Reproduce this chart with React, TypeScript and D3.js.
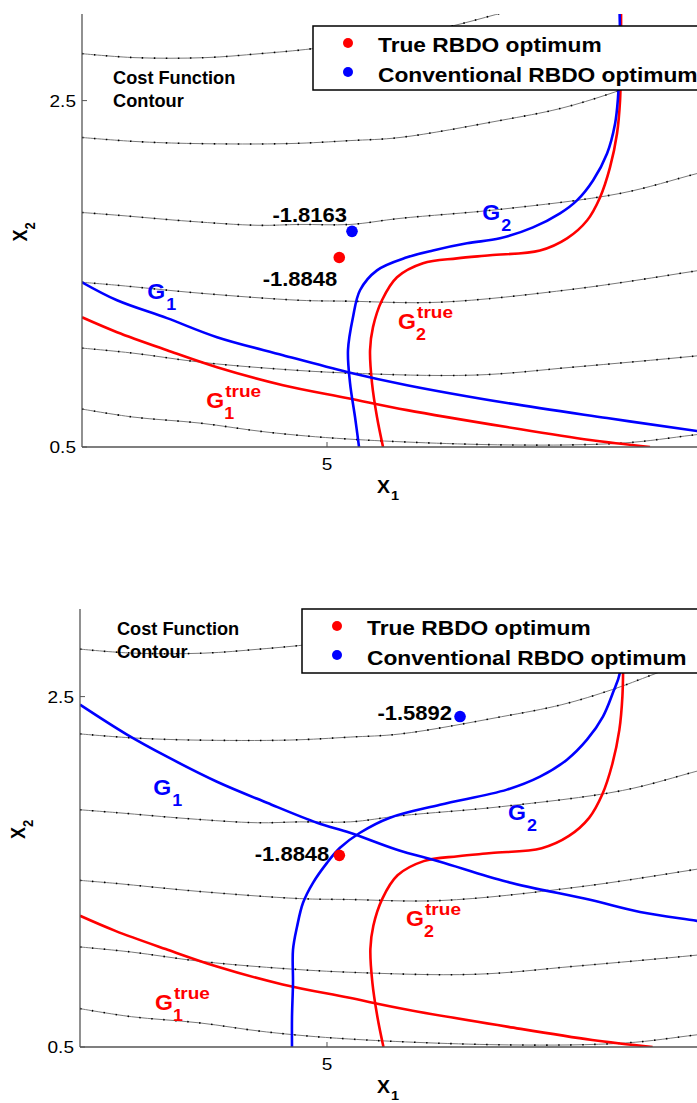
import * as d3 from 'd3';

type Pt = [number, number];

// ── axes ───────────────────────────────────────────────
const X_DOMAIN: [number, number] = [2, 10];
const Y_DOMAIN: [number, number] = [0.5, 3];
const X_TICKS = [5];
const Y_TICKS = [0.5, 2.5];

// ── cost function contours (same in both panels) ───────
const CONTOUR_1: Pt[] = [[2.0, 2.771], [2.649, 2.748], [3.506, 2.748], [4.18, 2.771], [4.829, 2.8], [5.894, 2.869], [6.543, 2.932], [7.06, 2.996], [7.4, 3.04]];
const CONTOUR_2: Pt[] = [[2.0, 2.287], [2.649, 2.264], [3.384, 2.252], [4.547, 2.252], [5.282, 2.269], [5.894, 2.287], [7.118, 2.385], [7.853, 2.454], [8.465, 2.54], [8.96, 2.626], [9.6, 2.74], [10.2, 2.86]];
const CONTOUR_3: Pt[] = [[2.0, 1.854], [2.465, 1.837], [3.323, 1.803], [4.155, 1.78], [4.669, 1.785], [5.282, 1.785], [5.894, 1.82], [7.118, 1.872], [8.588, 1.964], [9.531, 2.079], [10.2, 2.16]];
const CONTOUR_4: Pt[] = [[2.0, 1.451], [2.429, 1.434], [3.445, 1.388], [4.669, 1.347], [5.257, 1.342], [6.384, 1.336], [8.012, 1.411], [9.482, 1.514], [10.2, 1.57]];
const CONTOUR_5: Pt[] = [[2.0, 1.071], [2.624, 1.042], [3.445, 0.99], [4.265, 0.955], [5.257, 0.927], [6.8, 0.915], [8.012, 0.961], [9.482, 1.024], [10.2, 1.06]];
const CONTOUR_6: Pt[] = [[2.0, 0.719], [2.624, 0.673], [3.445, 0.638], [4.265, 0.586], [5.257, 0.546], [7.204, 0.512], [8.625, 0.523], [9.482, 0.569], [10.2, 0.61]];
const CONTOURS = [CONTOUR_1, CONTOUR_2, CONTOUR_3, CONTOUR_4, CONTOUR_5, CONTOUR_6];

// ── true constraints + optimum ─────────────────────────
const G1_TRUE: Pt[] = [[2.0, 1.249], [2.429, 1.163], [3.041, 1.059], [3.653, 0.961], [4.461, 0.857], [5.257, 0.782], [5.98, 0.713], [7.204, 0.615], [8.221, 0.54], [8.955, 0.5]];
const G2_TRUE: Pt[] = [[5.686, 0.5], [5.612, 0.673], [5.551, 0.869], [5.527, 1.059], [5.563, 1.192], [5.673, 1.347], [5.857, 1.48], [6.175, 1.561], [6.592, 1.589], [6.996, 1.607], [7.608, 1.635], [7.939, 1.705], [8.184, 1.808], [8.343, 1.941], [8.465, 2.114], [8.551, 2.31], [8.588, 2.5], [8.6, 2.788], [8.6, 3.05]];
const TRUE_OPT: Pt = [5.15, 1.594];
const TRUE_COST = '-1.8848';

// ── conventional constraints, top panel ────────────────
const G1_CONV_A: Pt[] = [[2.0, 1.451], [2.429, 1.347], [3.041, 1.244], [3.653, 1.134], [4.461, 1.03], [5.257, 0.932], [5.98, 0.857], [7.204, 0.754], [8.429, 0.667], [9.531, 0.592], [10.2, 0.55]];
const G2_CONV_A: Pt[] = [[5.392, 0.5], [5.343, 0.673], [5.282, 0.869], [5.257, 1.059], [5.318, 1.249], [5.404, 1.405], [5.612, 1.52], [5.98, 1.595], [6.298, 1.635], [6.714, 1.676], [7.118, 1.705], [7.522, 1.768], [7.853, 1.849], [8.061, 1.924], [8.257, 2.039], [8.429, 2.195], [8.527, 2.367], [8.563, 2.517], [8.588, 2.788], [8.58, 3.05]];
const CONV_OPT_A: Pt = [5.306, 1.745];
const CONV_COST_A = '-1.8163';

// ── conventional constraints, bottom panel ─────────────
const G1_CONV_B: Pt[] = [[2.0, 2.454], [2.571, 2.283], [3.057, 2.157], [3.664, 2.014], [4.271, 1.894], [4.879, 1.78], [5.279, 1.723], [5.85, 1.626], [6.373, 1.557], [7.186, 1.443], [8.195, 1.34], [8.802, 1.271], [9.494, 1.22], [10.2, 1.17]];
const G2_CONV_B: Pt[] = [[4.575, 0.5], [4.575, 0.671], [4.587, 0.866], [4.587, 1.054], [4.636, 1.186], [4.709, 1.323], [4.83, 1.437], [5.0, 1.551], [5.158, 1.637], [5.401, 1.723], [5.765, 1.809], [6.373, 1.883], [7.186, 1.969], [7.587, 2.043], [7.915, 2.14], [8.158, 2.254], [8.352, 2.386], [8.474, 2.523], [8.559, 2.637], [8.62, 3.05]];
const CONV_OPT_B: Pt = [6.616, 2.386];
const CONV_COST_B = '-1.5892';

const LEGEND = ['True RBDO optimum', 'Conventional RBDO optimum'];

const RED = '#ff0000';
const BLUE = '#0000ff';
const FONT = '"Liberation Sans", Arial, Helvetica, sans-serif';
const W = 697;
const H = 1103;

// layout of the two panels (pixels) + label anchors (data units)
const PANELS = [
  {
    id: 'a', left: 82, top: 14, bottom: 447, pxX: 81.67,
    g1: G1_CONV_A, g2: G2_CONV_A, conv: CONV_OPT_A, convCost: CONV_COST_A,
    convOff: [-5, -9], trueOff: [-2, 28],
    legend: [313, 26],
    costText: [2.38, 2.598],
    g1Lab: [2.8, 1.353], g2Lab: [6.9, 1.808], g1tLab: [3.52, 0.725], g2tLab: [5.87, 1.18],
  },
  {
    id: 'b', left: 80, top: 609, bottom: 1047, pxX: 82.33,
    g1: G1_CONV_B, g2: G2_CONV_B, conv: CONV_OPT_B, convCost: CONV_COST_B,
    convOff: [-8, 3], trueOff: [-10, 6],
    legend: [302, 609],
    costText: [2.449, 2.854],
    g1Lab: [2.89, 1.94], g2Lab: [7.2, 1.797], g1tLab: [2.91, 0.711], g2tLab: [5.96, 1.191],
  },
];

function Label({ x, y, size, sx = 1.12, anchor = 'start', fill = '#000', weight = 'bold', children }: any) {
  return (
    <text transform={`translate(${x},${y}) scale(${sx},1)`} fontSize={size} fontWeight={weight}
      fill={fill} textAnchor={anchor} fontFamily={FONT}>{children}</text>
  );
}

function GLabel({ x, y, color, sub, sup }: any) {
  return (
    <g>
      <Label x={x} y={y} size={22} sx={1.05} fill={color}>G</Label>
      {sup && <Label x={x + 19} y={y - 11} size={17} fill={color}>{sup}</Label>}
      <Label x={x + (sup ? 18 : 19)} y={y + 11} size={16} fill={color}>{sub}</Label>
    </g>
  );
}

function Panel({ p }: any) {
  const x = d3.scaleLinear().domain(X_DOMAIN).range([p.left, p.left + (X_DOMAIN[1] - X_DOMAIN[0]) * p.pxX]);
  const y = d3.scaleLinear().domain(Y_DOMAIN).range([p.bottom, p.top]);
  const line = d3.line<Pt>().x(d => x(d[0])).y(d => y(d[1])).curve(d3.curveCatmullRom.alpha(0.5));
  const clip = `clip-${p.id}`;
  const midY = (p.top + p.bottom) / 2;
  const [lx, ly] = p.legend;

  return (
    <g>
      <defs>
        <clipPath id={clip}>
          <rect x={p.left} y={p.top} width={W - p.left} height={p.bottom - p.top} />
        </clipPath>
      </defs>

      <g clipPath={`url(#${clip})`}>
        {/* contours: grey line with black sample dots */}
        {CONTOURS.map((c, i) => (
          <g key={i}>
            <path d={line(c) ?? ''} fill="none" stroke="#7a7a7a" strokeWidth={1} />
            <path d={line(c) ?? ''} fill="none" stroke="#000" strokeWidth={1.6} strokeDasharray="1.5 10.5" />
          </g>
        ))}
        <path d={line(G1_TRUE) ?? ''} fill="none" stroke={RED} strokeWidth={2.6} />
        <path d={line(G2_TRUE) ?? ''} fill="none" stroke={RED} strokeWidth={2.6} />
        <path d={line(p.g1) ?? ''} fill="none" stroke={BLUE} strokeWidth={2.6} />
        <path d={line(p.g2) ?? ''} fill="none" stroke={BLUE} strokeWidth={2.6} />

        <circle cx={x(TRUE_OPT[0])} cy={y(TRUE_OPT[1])} r={5.8} fill={RED} />
        <circle cx={x(p.conv[0])} cy={y(p.conv[1])} r={5.8} fill={BLUE} />
      </g>

      {/* value labels */}
      <Label x={x(p.conv[0]) + p.convOff[0]} y={y(p.conv[1]) + p.convOff[1]} size={20} sx={1.1} anchor="end">{p.convCost}</Label>
      <Label x={x(TRUE_OPT[0]) + p.trueOff[0]} y={y(TRUE_OPT[1]) + p.trueOff[1]} size={20} sx={1.1} anchor="end">{TRUE_COST}</Label>

      {/* constraint labels */}
      <GLabel x={x(p.g1Lab[0])} y={y(p.g1Lab[1])} color={BLUE} sub="1" />
      <GLabel x={x(p.g2Lab[0])} y={y(p.g2Lab[1])} color={BLUE} sub="2" />
      <GLabel x={x(p.g1tLab[0])} y={y(p.g1tLab[1])} color={RED} sub="1" sup="true" />
      <GLabel x={x(p.g2tLab[0])} y={y(p.g2tLab[1])} color={RED} sub="2" sup="true" />

      <Label x={x(p.costText[0])} y={y(p.costText[1])} size={17.5} sx={1.04}>Cost Function</Label>
      <Label x={x(p.costText[0])} y={y(p.costText[1]) + 23} size={17.5} sx={1.04}>Contour</Label>

      {/* axes */}
      <line x1={p.left} x2={p.left} y1={p.top} y2={p.bottom} stroke="#555" strokeWidth={1.3} />
      <line x1={p.left} x2={W + 5} y1={p.bottom} y2={p.bottom} stroke="#555" strokeWidth={1.3} />
      {Y_TICKS.map(t => (
        <g key={t}>
          <line x1={p.left} x2={p.left + 5} y1={y(t)} y2={y(t)} stroke="#555" strokeWidth={1} />
          <Label x={p.left - 6} y={y(t) + 6} size={17} weight="normal" anchor="end">{t.toFixed(1)}</Label>
        </g>
      ))}
      {X_TICKS.map(t => (
        <g key={t}>
          <line x1={x(t)} x2={x(t)} y1={p.bottom} y2={p.bottom - 5} stroke="#555" strokeWidth={1} />
          <Label x={x(t)} y={p.bottom + 23} size={17} weight="normal" anchor="middle">{t}</Label>
        </g>
      ))}

      {/* axis titles */}
      <g>
        <Label x={x(5) + 50} y={p.bottom + 46} size={18} sx={1.08}>X</Label>
        <Label x={x(5) + 64} y={p.bottom + 53} size={13}>1</Label>
      </g>
      <g transform={`translate(${p.left - 55},${midY + 11}) scale(1.1,1) rotate(-90)`}>
        <text fontSize={18} fontWeight="bold" fontFamily={FONT}>X<tspan fontSize={13} dy={7}>2</tspan></text>
      </g>

      {/* legend */}
      <rect x={lx} y={ly} width={W + 10 - lx} height={64} fill="#fff" stroke="#000" strokeWidth={1.5} />
      <circle cx={lx + 35} cy={ly + 17} r={5} fill={RED} />
      <circle cx={lx + 35} cy={ly + 46} r={5} fill={BLUE} />
      <Label x={lx + 65} y={ly + 26} size={20.5} sx={1.11}>{LEGEND[0]}</Label>
      <Label x={lx + 65} y={ly + 56} size={20.5} sx={1.11}>{LEGEND[1]}</Label>
    </g>
  );
}

export default function App() {
  return (
    <svg width={W} height={H} style={{ position: 'absolute', left: 0, top: 0, background: '#fff', overflow: 'hidden' }}>
      <rect width={W} height={H} fill="#fff" />
      {PANELS.map(p => <Panel key={p.id} p={p} />)}
    </svg>
  );
}
